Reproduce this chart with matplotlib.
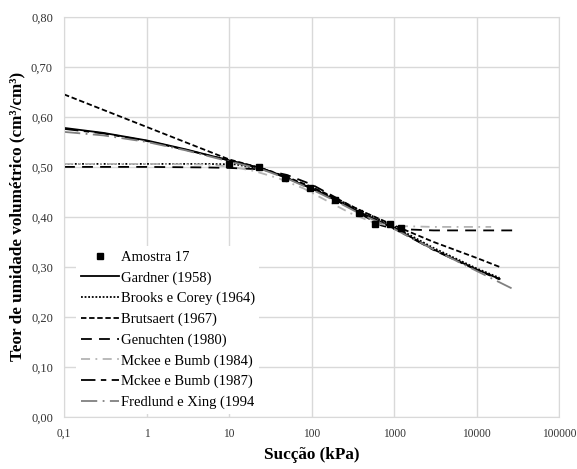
import matplotlib
matplotlib.use("Agg")
import matplotlib.pyplot as plt
from matplotlib.ticker import FixedLocator, FixedFormatter, NullLocator

plt.rcParams["font.family"] = ["Liberation Serif", "DejaVu Serif"]

# measured points
amostra_x = [10, 23, 48, 95, 190, 380, 580, 900, 1200]
amostra_y = [0.506, 0.500, 0.478, 0.457, 0.433, 0.408, 0.385, 0.385, 0.377]

# fitted curves
gardner_x = [0.1, 0.3, 1, 3, 10, 25, 50, 100, 200, 400, 1000, 3000, 10000, 19000]
gardner_y = [0.578, 0.568, 0.553, 0.535, 0.513, 0.497, 0.478, 0.457, 0.433, 0.408, 0.378, 0.335, 0.295, 0.276]

brooks_x = [0.1, 1, 5, 12, 25, 50, 100, 200, 400, 1000, 3000, 10000, 19000]
brooks_y = [0.506, 0.506, 0.506, 0.505, 0.496, 0.478, 0.458, 0.436, 0.412, 0.381, 0.338, 0.297, 0.278]

brutsaert_x = [0.1, 10, 25, 50, 100, 200, 400, 1000, 3000, 10000, 19000]
brutsaert_y = [0.645, 0.515, 0.497, 0.480, 0.460, 0.437, 0.412, 0.383, 0.350, 0.318, 0.300]

genuchten_x = [0.1, 1, 5, 10, 25, 50, 100, 200, 400, 700, 1000, 3000, 30000]
genuchten_y = [0.500, 0.500, 0.499, 0.498, 0.495, 0.484, 0.465, 0.438, 0.405, 0.383, 0.376, 0.373, 0.373]

mckee84_x = [0.1, 1, 5, 10, 20, 40, 80, 150, 300, 600, 1000, 3000, 15000]
mckee84_y = [0.506, 0.506, 0.505, 0.501, 0.492, 0.477, 0.457, 0.433, 0.407, 0.387, 0.382, 0.380, 0.380]

mckee87_x = [0.1, 0.3, 1, 3, 10, 25, 50, 100, 200, 400, 1000, 3000, 10000, 19000]
mckee87_y = [0.576, 0.567, 0.552, 0.534, 0.513, 0.497, 0.479, 0.457, 0.433, 0.407, 0.377, 0.334, 0.294, 0.275]

fredlund_x = [0.1, 0.3, 1, 3, 10, 25, 50, 100, 200, 400, 1000, 3000, 10000, 27500]
fredlund_y = [0.570, 0.563, 0.550, 0.533, 0.511, 0.495, 0.477, 0.455, 0.431, 0.405, 0.376, 0.335, 0.292, 0.256]

xticks = [0.1, 1, 10, 100, 1000, 10000, 100000]
xtick_labels = ["0,1", "1", "10", "100", "1000", "10000", "100000"]
yticks = [0.0, 0.1, 0.2, 0.3, 0.4, 0.5, 0.6, 0.7, 0.8]
ytick_labels = ["0,00", "0,10", "0,20", "0,30", "0,40", "0,50", "0,60", "0,70", "0,80"]

fig = plt.figure(figsize=(5.77, 4.69), dpi=100)
ax = fig.add_axes([0.111, 0.111, 0.858, 0.853])

lw = 1.3
ax.plot(amostra_x, amostra_y, "s", color="black", ms=5, label="Amostra 17", zorder=5)
ax.plot(gardner_x, gardner_y, color="black", lw=lw, label="Gardner (1958)")
ax.plot(brooks_x, brooks_y, color="black", lw=lw, ls=(0, (1, 1)), label="Brooks e Corey (1964)")
ax.plot(brutsaert_x, brutsaert_y, color="black", lw=lw, ls=(0, (3, 1.5)), label="Brutsaert (1967)")
ax.plot(genuchten_x, genuchten_y, color="black", lw=lw, ls=(0, (6, 4)), label="Genuchten (1980)")
ax.plot(mckee84_x, mckee84_y, color="#b4b4b4", lw=lw, ls=(0, (5, 3, 1, 3)), label="Mckee e Bumb (1984)")
ax.plot(mckee87_x, mckee87_y, color="black", lw=lw, ls=(0, (8, 3, 3, 3)), label="Mckee e Bumb (1987)")
ax.plot(fredlund_x, fredlund_y, color="#808080", lw=lw, ls=(0, (9, 3, 1, 3)), label="Fredlund e Xing (1994")

ax.set_xscale("log")
ax.set_xlim(0.1, 100000)
ax.set_ylim(0, 0.8)
ax.xaxis.set_major_locator(FixedLocator(xticks))
ax.xaxis.set_major_formatter(FixedFormatter(xtick_labels))
ax.xaxis.set_minor_locator(NullLocator())
ax.set_yticks(yticks)
ax.set_yticklabels(ytick_labels)
ax.tick_params(length=0, labelsize=9, colors="#333333", pad=8)
ax.tick_params(axis="x", labelsize=8.3)
ax.grid(True, color="#d9d9d9", lw=1)
ax.set_axisbelow(True)
for s in ax.spines.values():
    s.set_color("#d9d9d9")

ax.set_xlabel("Sucção (kPa)", fontsize=12.3, fontweight="bold", labelpad=5)
ax.set_ylabel("Teor de umidade volumétrico (cm³/cm³)", fontsize=12.3, fontweight="bold", labelpad=4)

leg = ax.legend(loc="upper left", bbox_to_anchor=(0.01, 0.445), fontsize=10.5,
                frameon=True, facecolor="white", edgecolor="none", framealpha=1,
                fancybox=False, handlelength=2.6, handletextpad=0.15,
                labelspacing=0.5, borderpad=0.3)

fig.savefig("out.png", dpi=100)
